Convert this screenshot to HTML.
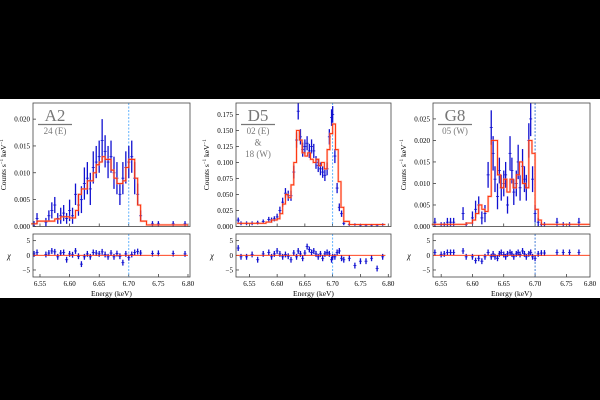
<!DOCTYPE html>
<html><head><meta charset="utf-8"><style>
body{margin:0;background:#000;}
svg{display:block;font-family:"Liberation Serif",serif;}
</style></head><body>
<svg id="fig" width="600" height="400" viewBox="0 0 600 400">
<rect x="0" y="99" width="600" height="199" fill="#fff"/>
</svg>
<script>
// ---- Panel A2 data ----
const aEnergy=[6.540,6.545,6.560,6.565,6.570,6.575,6.580,6.585,6.590,6.595,6.600,6.605,6.610,6.615,6.620,6.625,6.630,6.635,6.640,6.645,6.650,6.655,6.660,6.665,6.670,6.675,6.680,6.685,6.690,6.695,6.700,6.705,6.710,6.715,6.720,6.740,6.750,6.775,6.795];
const aCounts=[0.0005,0.0015,0.0008,0.002,0.003,0.004,0.0015,0.002,0.0025,0.0015,0.003,0.002,0.006,0.004,0.005,0.008,0.009,0.007,0.011,0.012,0.013,0.016,0.014,0.012,0.013,0.010,0.009,0.006,0.009,0.011,0.012,0.013,0.009,0.006,0.002,0.0005,0.0005,0.0005,0.0005];
const aErr=[0.0005,0.001,0.0008,0.001,0.0015,0.0015,0.001,0.0015,0.0015,0.001,0.002,0.0015,0.002,0.002,0.0025,0.003,0.003,0.003,0.003,0.003,0.003,0.004,0.003,0.003,0.003,0.003,0.003,0.002,0.003,0.003,0.003,0.003,0.003,0.002,0.001,0.0005,0.0005,0.0005,0.0005];
const aModelE=[6.535,6.545,6.560,6.575,6.585,6.600,6.610,6.615,6.620,6.630,6.640,6.645,6.650,6.655,6.660,6.670,6.675,6.680,6.690,6.695,6.700,6.710,6.715,6.720,6.730,6.800];
const aModelY=[0.0005,0.0010,0.0010,0.0014,0.0018,0.0016,0.0030,0.0060,0.0070,0.0085,0.0100,0.0115,0.0120,0.0130,0.0125,0.0105,0.0090,0.0080,0.0085,0.0110,0.0125,0.0090,0.0040,0.0010,0.0003,0.0003];
const aResid=[0.5,1,0.3,0.8,1.5,1.2,-0.5,0.8,1,-1.5,0.5,0.2,1.5,-0.3,-3,-0.5,0.5,-0.5,1,0.8,0.5,1.2,0.3,-0.5,0.8,-0.5,0.6,-0.3,-2.5,0.5,-0.8,0.3,1,1.3,0.8,0.6,0.7,0.6,0.5];
// ---- Panel D5 data ----
const dEnergy=[6.530,6.535,6.545,6.555,6.565,6.575,6.585,6.590,6.595,6.600,6.605,6.610,6.615,6.620,6.625,6.630,6.635,6.638,6.642,6.646,6.650,6.654,6.658,6.662,6.666,6.670,6.674,6.678,6.682,6.686,6.690,6.694,6.698,6.700,6.704,6.708,6.712,6.716,6.720,6.730,6.740,6.750,6.760,6.770,6.780,6.790];
const dCounts=[0.010,0.005,0.005,0.005,0.006,0.008,0.011,0.010,0.012,0.015,0.025,0.038,0.052,0.048,0.048,0.085,0.135,0.180,0.140,0.120,0.125,0.130,0.118,0.125,0.118,0.100,0.095,0.090,0.085,0.080,0.090,0.140,0.170,0.175,0.110,0.060,0.030,0.020,0.005,0.003,0.003,0.002,0.002,0.002,0.002,0.003];
const dErr=[0.004,0.003,0.003,0.003,0.003,0.003,0.004,0.004,0.004,0.005,0.006,0.007,0.008,0.008,0.008,0.010,0.012,0.013,0.012,0.011,0.011,0.011,0.011,0.011,0.011,0.010,0.010,0.010,0.009,0.009,0.010,0.012,0.013,0.013,0.011,0.008,0.006,0.005,0.003,0.002,0.002,0.002,0.002,0.002,0.002,0.002];
const dModelE=[6.528,6.570,6.580,6.590,6.600,6.605,6.610,6.615,6.620,6.625,6.630,6.635,6.640,6.645,6.650,6.655,6.660,6.665,6.670,6.675,6.680,6.685,6.690,6.695,6.700,6.705,6.710,6.715,6.720,6.730,6.795];
const dModelY=[0.005,0.005,0.007,0.010,0.012,0.020,0.035,0.050,0.045,0.065,0.100,0.150,0.135,0.115,0.110,0.115,0.105,0.100,0.105,0.095,0.100,0.090,0.120,0.145,0.160,0.120,0.070,0.030,0.008,0.003,0.003];
const dResid=[2.5,-0.5,-0.5,0.3,-1.5,0.5,1,-0.5,0.5,1.5,0.5,-0.5,0.3,-0.3,-1.5,0.8,-0.5,1.5,0.5,-1,0.8,3,2,1,1.5,0.5,-0.5,0.5,-1,0.5,1,0.5,-1.5,-0.5,-0.5,1,1.5,-1,-1.5,-1,-3.5,-2,-2,-1,-4.5,-0.5];
// ---- Panel G8 data ----
const gEnergy=[6.540,6.550,6.555,6.560,6.565,6.570,6.585,6.590,6.600,6.605,6.610,6.615,6.620,6.625,6.630,6.633,6.636,6.640,6.643,6.646,6.650,6.653,6.656,6.660,6.663,6.666,6.670,6.673,6.676,6.680,6.683,6.686,6.690,6.693,6.696,6.700,6.705,6.710,6.715,6.735,6.745,6.755,6.770];
const gCounts=[0.001,0.0005,0.0005,0.001,0.001,0.001,0.003,0.0005,0.002,0.004,0.005,0.002,0.003,0.012,0.023,0.017,0.011,0.007,0.013,0.009,0.010,0.012,0.005,0.017,0.013,0.008,0.010,0.015,0.009,0.014,0.011,0.009,0.020,0.025,0.011,0.003,0.001,0.0005,0.0005,0.001,0.0005,0.0005,0.001];
const gErr=[0.001,0.0005,0.0005,0.001,0.001,0.001,0.0015,0.0005,0.0015,0.002,0.002,0.0015,0.002,0.003,0.004,0.004,0.003,0.003,0.003,0.003,0.003,0.003,0.002,0.004,0.003,0.003,0.003,0.004,0.003,0.004,0.003,0.003,0.004,0.004,0.003,0.002,0.001,0.0005,0.0005,0.001,0.0005,0.0005,0.001];
const gModelE=[6.535,6.590,6.600,6.605,6.610,6.615,6.620,6.625,6.630,6.640,6.645,6.650,6.655,6.660,6.665,6.670,6.675,6.680,6.685,6.690,6.695,6.700,6.705,6.710,6.787];
const gModelY=[0.0005,0.0008,0.0015,0.003,0.005,0.004,0.0035,0.007,0.020,0.012,0.009,0.011,0.008,0.011,0.009,0.012,0.015,0.010,0.009,0.020,0.017,0.004,0.0015,0.0005,0.0005];
const gResid=[1,0.3,0.5,1,1,1,1.5,-0.5,-0.5,-1.8,-1,-2,-0.5,1,-0.5,0.5,-0.5,-1,0.5,1,0.3,-0.5,0.5,1,0.5,-0.5,0.5,1,0.3,1.5,0.5,-0.5,0.5,1,-0.5,-1,0.5,0.8,0.8,1,1,1,1];
// tick labels
const xTicks=[6.55,6.60,6.65,6.70,6.75,6.80];
const aYTicks=[0.000,0.005,0.010,0.015,0.020];
const dYTicks=[0.000,0.025,0.050,0.075,0.100,0.125,0.150,0.175];
const gYTicks=[0.000,0.005,0.010,0.015,0.020,0.025];
const rTicks=[-5,0,5];

const NS="http://www.w3.org/2000/svg";
const svg=document.getElementById('fig');
function mk(tag,attrs,parent){const e=document.createElementNS(NS,tag);for(const k in attrs)e.setAttribute(k,attrs[k]);(parent||svg).appendChild(e);return e;}

const panels=[
 {id:'a2',L:33,R:190,xmin:6.5382,xmax:6.8034,ymax:0.023,E:aEnergy,C:aCounts,Er:aErr,ME:aModelE,MY:aModelY,Rs:aResid,yt:aYTicks,dash:'#3aa0ff',title:'A2',sub:['24 (E)']},
 {id:'d5',L:236,R:391,xmin:6.526,xmax:6.805,ymax:0.1928,E:dEnergy,C:dCounts,Er:dErr,ME:dModelE,MY:dModelY,Rs:dResid,yt:dYTicks,dash:'#3aa0ff',title:'D5',sub:['02 (E)','&','18 (W)']},
 {id:'g8',L:433,R:590,xmin:6.537,xmax:6.7877,ymax:0.0287,E:gEnergy,C:gCounts,Er:gErr,ME:gModelE,MY:gModelY,Rs:gResid,yt:gYTicks,dash:'#1a5fcc',title:'G8',sub:['05 (W)']}
];
const T=103,B=226.5,RT=234,RB=277,rmin=-7.4,rmax=7.3;

panels.forEach(p=>{
 const g=mk('g',{});
 
 
 const X=e=>p.L+(e-p.xmin)/(p.xmax-p.xmin)*(p.R-p.L);
 const Y=v=>B-v/p.ymax*(B-T);
 const RY=v=>RB-(v-rmin)/(rmax-rmin)*(RB-RT);
 p.yt.forEach(v=>{
  mk('line',{x1:p.L,x2:p.L+3,y1:Y(v),y2:Y(v),stroke:'#000','stroke-width':0.6},g);
  const t=mk('text',{x:p.L-3,y:Y(v)+2.5,'font-size':7,'text-anchor':'end',fill:'#000'},g);
  t.textContent=v.toFixed(3);
  
  
 });
 rTicks.forEach(v=>{
  mk('line',{x1:p.L,x2:p.L+3,y1:RY(v),y2:RY(v),stroke:'#000','stroke-width':0.6},g);
  const t=mk('text',{x:p.L-3,y:RY(v)+2.5,'font-size':7,'text-anchor':'end',fill:'#000'},g);
  t.textContent=v<0?'\u22125':String(v);
  
  
 });
 xTicks.forEach(v=>{
  const x=X(v);
  if(x<=p.R+0.5){
   mk('line',{x1:x,x2:x,y1:B,y2:B-3,stroke:'#000','stroke-width':0.6},g);
   mk('line',{x1:x,x2:x,y1:RB,y2:RB-3,stroke:'#000','stroke-width':0.6},g);
  }
  const t=mk('text',{x:Math.min(x,p.R),y:286,'font-size':7,'text-anchor':'middle',fill:'#000'},g);
  t.textContent=v.toFixed(2);
  
  
 });
 [[T,B],[RT,RB]].forEach(([a,b])=>{
  const l=mk('line',{x1:X(6.70),x2:X(6.70),y1:a,y2:b,stroke:p.dash,'stroke-width':0.8,'stroke-dasharray':'2,1.5'},g);
  
  
 });
 p.E.forEach((e,i)=>{
  const x=X(e);
  const pt=mk('g',{},g);
  
  
  mk('line',{x1:x,x2:x,y1:Y(Math.min(p.ymax,p.C[i]+p.Er[i])),y2:Y(Math.max(0,p.C[i]-p.Er[i])),stroke:'#1010d0','stroke-width':1.3},pt);
  mk('line',{x1:x-1.5,x2:x+1.5,y1:Y(p.C[i]),y2:Y(p.C[i]),stroke:'#1010d0','stroke-width':0.8},pt);
  const r=mk('g',{},g);
  
  
  mk('line',{x1:x,x2:x,y1:RY(p.Rs[i]+1),y2:RY(p.Rs[i]-1),stroke:'#1010d0','stroke-width':1.3},r);
  mk('line',{x1:x-1.5,x2:x+1.5,y1:RY(p.Rs[i]),y2:RY(p.Rs[i]),stroke:'#1010d0','stroke-width':0.8},r);
 });
 let d='';
 for(let i=0;i<p.ME.length;i++){
  const x=X(p.ME[i]),y=Y(p.MY[i]);
  if(i===0)d+='M'+x+','+y;else d+='V'+y+'H'+x;
  if(i<p.ME.length-1)d+='H'+X(p.ME[i+1]);
 }
 const m=mk('path',{d:d,fill:'none',stroke:'#ff8a70','stroke-width':2.2,opacity:0.5},g);
 
 
 const m2=mk('path',{d:d,fill:'none',stroke:'#ff2a00','stroke-width':0.9},g);
 
 
 const z=mk('line',{x1:p.L,x2:X(p.ME[p.ME.length-1]),y1:RY(0),y2:RY(0),stroke:'#ff2a00','stroke-width':0.9},g);
 
 
 const f1=mk('rect',{x:p.L,y:T,width:p.R-p.L,height:B-T,fill:'none',stroke:'#444','stroke-width':0.8},g);
 
 
 const f2=mk('rect',{x:p.L,y:RT,width:p.R-p.L,height:RB-RT,fill:'none',stroke:'#444','stroke-width':0.8},g);
 
 
 const cx=(p.L+p.R)/2;
 const xl=mk('text',{x:cx,y:296,'font-size':7.5,'text-anchor':'middle',fill:'#000'},g);
 xl.textContent='Energy (keV)';
 
 
 const yx=p.L-27,yy=(T+B)/2;
 const yl=mk('text',{x:yx,y:yy,'font-size':7.5,'text-anchor':'middle',fill:'#000',transform:`rotate(-90 ${yx} ${yy})`},g);
 yl.innerHTML='Counts s<tspan dy="-3" font-size="5">\u22121</tspan><tspan dy="3"> keV</tspan><tspan dy="-3" font-size="5">\u22121</tspan>';
 
 
 const rl=mk('text',{x:p.L-24,y:(RT+RB)/2+3,'font-size':8,'font-style':'italic','text-anchor':'middle',fill:'#000'},g);
 rl.textContent='\u03c7';
 
 
 const tx=p.L+22;
 const tt=mk('text',{x:tx,y:121,'font-size':17,'text-anchor':'middle',fill:'#777'},g);
 tt.textContent=p.title;
 
 
 mk('line',{x1:tx-17,x2:tx+17,y1:124.5,y2:124.5,stroke:'#777','stroke-width':1.2},g);
 p.sub.forEach((s,i)=>{
  const st=mk('text',{x:tx,y:134+i*11.5,'font-size':9,'text-anchor':'middle',fill:'#777'},g);
  st.textContent=s;
  
  
 });
});
</script>
</body></html>
